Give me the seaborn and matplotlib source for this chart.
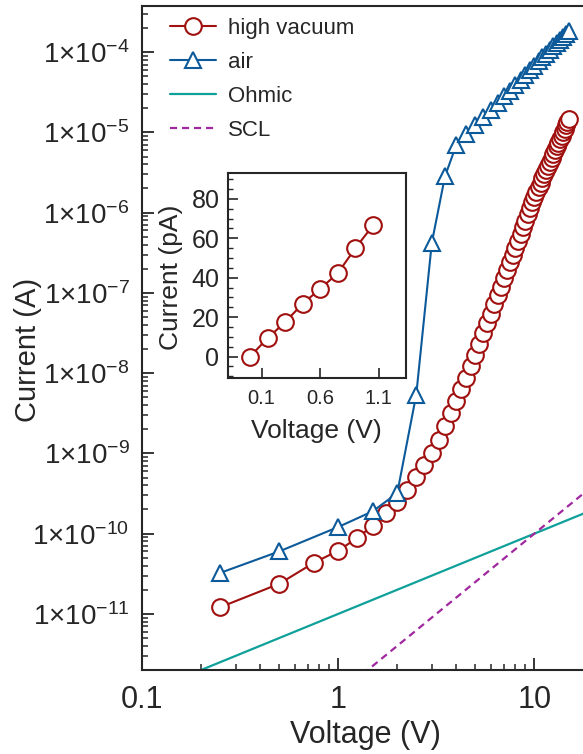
import numpy as np
import pandas as pd
import seaborn as sns
import matplotlib.pyplot as plt
from matplotlib.ticker import LogLocator, FuncFormatter, NullFormatter, FixedLocator, AutoMinorLocator

# --- data ---
# high vacuum sweep, 0.25 V steps
vac_volt = [0.25, 0.5, 0.75, 1.0, 1.25, 1.5, 1.75, 2.0, 2.25, 2.5, 2.75, 3.0,
            3.25, 3.5, 3.75, 4.0, 4.25, 4.5, 4.75, 5.0, 5.25, 5.5, 5.75, 6.0,
            6.25, 6.5, 6.75, 7.0, 7.25, 7.5, 7.75, 8.0, 8.25, 8.5, 8.75, 9.0,
            9.25, 9.5, 9.75, 10.0, 10.25, 10.5, 10.75, 11.0, 11.25, 11.5, 11.75, 12.0,
            12.25, 12.5, 12.75, 13.0, 13.25, 13.5, 13.75, 14.0, 14.25, 14.5, 14.75, 15.0]
vac_curr = [1.21e-11, 2.37e-11, 4.32e-11, 6.14e-11, 8.83e-11, 1.26e-10, 1.80e-10, 2.47e-10,
            3.53e-10, 5.15e-10, 7.23e-10, 1.01e-9, 1.48e-9, 2.17e-9, 3.16e-9, 4.45e-9,
            6.34e-9, 8.69e-9, 1.21e-8, 1.68e-8, 2.29e-8, 3.13e-8, 4.19e-8, 5.53e-8,
            7.24e-8, 9.38e-8, 1.20e-7, 1.52e-7, 1.92e-7, 2.40e-7, 2.97e-7, 3.66e-7,
            4.49e-7, 5.46e-7, 6.61e-7, 7.94e-7, 9.51e-7, 1.13e-6, 1.35e-6, 1.58e-6,
            1.82e-6, 2.07e-6, 2.36e-6, 2.68e-6, 3.03e-6, 3.42e-6, 3.85e-6, 4.32e-6,
            4.84e-6, 5.41e-6, 6.03e-6, 6.70e-6, 7.45e-6, 8.24e-6, 9.12e-6, 1.01e-5,
            1.11e-5, 1.22e-5, 1.34e-5, 1.47e-5]

# air sweep
air_volt = [0.25, 0.5, 1.0, 1.5, 2.0, 2.5, 3.0, 3.5, 4.0, 4.5, 5.0, 5.5, 6.0,
            6.5, 7.0, 7.5, 8.0, 8.5, 9.0, 9.5, 10.0, 10.5, 11.0, 11.5, 12.0,
            12.5, 13.0, 13.5, 14.0, 14.5, 15.0]
air_curr = [3.24e-11, 6.0e-11, 1.21e-10, 1.9e-10, 3.2e-10, 5.4e-9, 4.2e-7, 2.82e-6,
            6.98e-6, 9.5e-6, 1.23e-5, 1.55e-5, 1.91e-5, 2.33e-5, 2.80e-5, 3.32e-5,
            3.90e-5, 4.53e-5, 5.21e-5, 5.97e-5, 6.78e-5, 7.64e-5, 8.58e-5, 9.57e-5,
            1.06e-4, 1.18e-4, 1.30e-4, 1.43e-4, 1.56e-4, 1.70e-4, 1.85e-4]

# reference lines (end points)
ohmic_volt = [0.1, 20.0]
ohmic_curr = [1e-12, 2e-10]
scl_volt = [0.5, 20.0]
scl_curr = [2.5e-13, 4e-10]

# tick positions
x_ticks = [0.1, 1, 10]
y_ticks = [1e-11, 1e-10, 1e-9, 1e-8, 1e-7, 1e-6, 1e-5, 1e-4]

# inset: low bias, linear scale
inset_volt = [0.0, 0.15, 0.3, 0.45, 0.6, 0.75, 0.9, 1.05]
inset_curr = [0.0, 9.3, 17.5, 26.8, 34.4, 42.3, 55.0, 66.5]
inset_xticks = [0.1, 0.6, 1.1]
inset_yticks = [0, 20, 40, 60, 80]

RED = '#a0100f'
BLUE = '#0d5a9a'
TEAL = '#10a09a'
PURPLE = '#a0289e'

# --- style ---
sns.set_style("ticks")
plt.rcParams['font.family'] = ['Liberation Sans', 'DejaVu Sans']
plt.rcParams['mathtext.fontset'] = 'custom'
plt.rcParams['mathtext.rm'] = 'Liberation Sans'
plt.rcParams['mathtext.it'] = 'Liberation Sans:italic'
plt.rcParams['mathtext.bf'] = 'Liberation Sans:bold'

fig = plt.figure(figsize=(5.83, 7.54), dpi=100)
ax = fig.add_axes([0.2436, 0.1114, 0.7743, 0.8806])

mk = dict(markersize=12, markerfacecolor='white', markeredgewidth=1.5, linewidth=1.5)
sns.lineplot(x=vac_volt, y=vac_curr, ax=ax, color=RED, marker='o',
             markeredgecolor=RED, label='high vacuum', **mk)
sns.lineplot(x=air_volt, y=air_curr, ax=ax, color=BLUE, marker='^',
             markeredgecolor=BLUE, label='air', **mk)
sns.lineplot(x=ohmic_volt, y=ohmic_curr, ax=ax, color=TEAL, linewidth=1.6, label='Ohmic')
sns.lineplot(x=scl_volt, y=scl_curr, ax=ax, color=PURPLE, linewidth=1.6,
             linestyle=(0, (3.2, 2.2)), label='SCL')

ax.set_xscale('log')
ax.set_yscale('log')
ax.set_xlim(0.1, 20)
ax.set_ylim(2.0e-12, 3.75e-4)

ax.xaxis.set_major_locator(FixedLocator(x_ticks))
ax.yaxis.set_major_locator(FixedLocator(y_ticks))
ax.yaxis.set_minor_locator(LogLocator(base=10, subs=np.arange(2, 10), numticks=20))
ax.yaxis.set_minor_formatter(NullFormatter())
ax.yaxis.set_major_formatter(FuncFormatter(
    lambda v, p: "1×10$^{%d}$" % int(round(np.log10(v)))))
ax.xaxis.set_major_formatter(FuncFormatter(lambda v, p: f"{v:g}"))
ax.xaxis.set_minor_formatter(NullFormatter())

ax.tick_params(which='major', direction='in', length=8.5, width=1.3, labelsize=20)
ax.tick_params(which='minor', direction='in', length=4.3, width=1.1)
ax.tick_params(axis='x', which='major', labelsize=22, pad=11)
ax.tick_params(axis='y', which='major', pad=9)
for s in ax.spines.values():
    s.set_linewidth(1.5)
ax.spines['right'].set_visible(False)

ax.set_xlabel('Voltage (V)', fontsize=22)
ax.set_ylabel('Current (A)', fontsize=21)
ax.xaxis.set_label_coords(0.496, -0.076)
ax.yaxis.set_label_coords(-0.222, 0.482)

ax.legend(loc='upper left', bbox_to_anchor=(0.062, 0.982), frameon=False, fontsize=16,
          handlelength=2.07, handletextpad=0.55, labelspacing=0.58, borderpad=0,
          borderaxespad=0)

# --- inset ---
ins = fig.add_axes([0.3906, 0.4983, 0.3053, 0.2727])
ins.set_facecolor('white')
sns.lineplot(x=inset_volt, y=inset_curr, ax=ins, color=RED, marker='o',
             markeredgecolor=RED, **mk)
ins.set_xlim(-0.19, 1.33)
ins.set_ylim(-11, 93.3)
ins.xaxis.set_major_locator(FixedLocator(inset_xticks))
ins.yaxis.set_major_locator(FixedLocator(inset_yticks))
ins.yaxis.set_minor_locator(AutoMinorLocator(4))
ins.tick_params(which='major', direction='in', length=7, width=1.2, pad=6)
ins.tick_params(which='minor', direction='in', length=3.5, width=1.0)
ins.tick_params(axis='x', labelsize=14.5, pad=8)
ins.tick_params(axis='y', labelsize=18)
for s in ins.spines.values():
    s.set_linewidth(1.5)
ins.set_xlabel('Voltage (V)', fontsize=19)
ins.set_ylabel('Current (pA)', fontsize=19)
ins.xaxis.set_label_coords(0.5, -0.2)
ins.yaxis.set_label_coords(-0.251, 0.49)

fig.savefig('out.png', dpi=100)
